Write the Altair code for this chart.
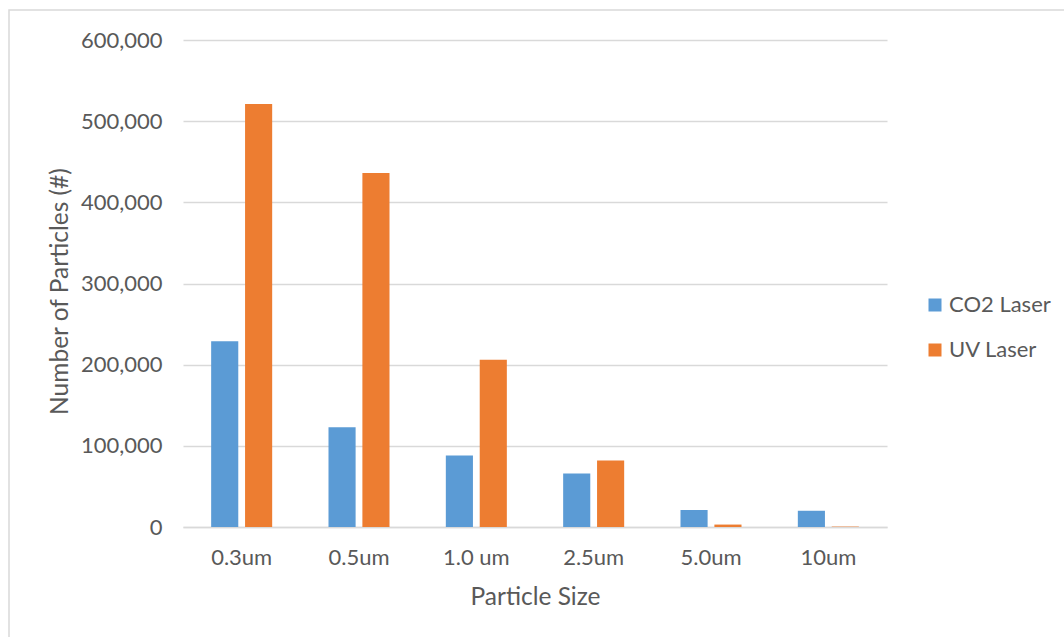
import altair as alt
import pandas as pd

# Particle counts per size bin for the two laser types
sizes = ["0.3um", "0.5um", "1.0 um", "2.5um", "5.0um", "10um"]
co2_laser = [229000, 123000, 88000, 66000, 21000, 20000]
uv_laser = [521000, 436000, 206000, 82000, 3000, 500]
series = ["CO2 Laser", "UV Laser"]
colors = ["#5B9BD5", "#ED7D31"]
y_ticks = [0, 100000, 200000, 300000, 400000, 500000, 600000]

rows = []
for s, a, b in zip(sizes, co2_laser, uv_laser):
    rows.append({"size": s, "laser": series[0], "count": a})
    rows.append({"size": s, "laser": series[1], "count": b})
df = pd.DataFrame(rows)

FONT = "Lato"
TXT = "#595959"
GRID = "#D9D9D9"

bars = alt.Chart(df).mark_bar().encode(
    x=alt.X(
        "size:N",
        sort=sizes,
        title="Particle Size",
        scale=alt.Scale(paddingInner=0.48, paddingOuter=0.24),
        axis=alt.Axis(
            labelAngle=0,
            labelFontSize=22,
            labelColor=TXT,
            labelFont=FONT,
            labelPadding=20,
            ticks=False,
            domainColor=GRID,
            domainWidth=1.5,
            titleFontSize=24.5,
            titleFont=FONT,
            titleColor=TXT,
            titleFontWeight="normal",
            titlePadding=17,
        ),
    ),
    xOffset=alt.XOffset(
        "laser:N", sort=series, scale=alt.Scale(paddingInner=0.2, paddingOuter=0)
    ),
    y=alt.Y(
        "count:Q",
        title="Number of Particles (#)",
        scale=alt.Scale(domain=[0, 600000], nice=False),
        axis=alt.Axis(
            values=y_ticks,
            format=",d",
            labelFontSize=22,
            labelColor=TXT,
            labelFont=FONT,
            labelPadding=21,
            ticks=False,
            domain=False,
            gridColor=GRID,
            gridWidth=1.3,
            titleFontSize=24.5,
            titleFont=FONT,
            titleColor=TXT,
            titleFontWeight="normal",
            titlePadding=8,
            titleY=251,
        ),
    ),
    color=alt.Color(
        "laser:N",
        sort=series,
        scale=alt.Scale(domain=series, range=colors),
        legend=alt.Legend(
            title=None,
            orient="none",
            legendX=741,
            legendY=254,
            symbolType="square",
            symbolSize=169,
            symbolStrokeWidth=0,
            labelFontSize=22,
            labelFont=FONT,
            labelColor=TXT,
            labelOffset=3,
            rowPadding=23,
        ),
    ),
)

# Light grey frame around the whole chart
frame = alt.Chart(pd.DataFrame({"k": [0]})).mark_rect(
    fill=None, stroke=GRID, strokeWidth=1.5
).encode(
    x=alt.value(-174), x2=alt.value(900), y=alt.value(-30), y2=alt.value(620)
)

chart = alt.layer(frame, bars).properties(
    width=704,
    height=487,
    autosize=alt.AutoSizeParams(type="none"),
    padding={"left": 183, "top": 40, "right": 177, "bottom": 110},
    background="white",
).configure_view(stroke=None)

chart.save("out.html", embed_options={"renderer": "svg", "actions": False})
